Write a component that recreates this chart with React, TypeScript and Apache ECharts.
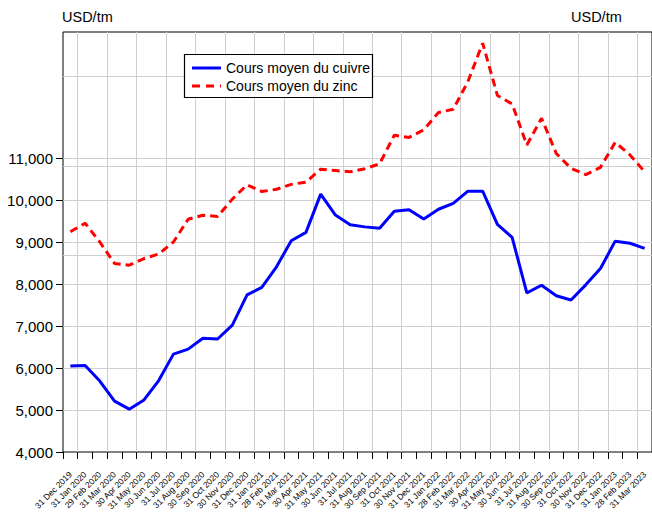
import React, { useEffect, useRef } from "react";
import * as echarts from "echarts";

const categories = [
  "31 Dec 2019", "31 Jan 2020", "29 Feb 2020", "31 Mar 2020", "30 Apr 2020", "31 May 2020",
  "30 Jun 2020", "31 Jul 2020", "31 Aug 2020", "30 Sep 2020", "31 Oct 2020", "30 Nov 2020",
  "31 Dec 2020", "31 Jan 2021", "28 Feb 2021", "31 Mar 2021", "30 Apr 2021", "31 May 2021",
  "30 Jun 2021", "31 Jul 2021", "31 Aug 2021", "30 Sep 2021", "31 Oct 2021", "30 Nov 2021",
  "31 Dec 2021", "31 Jan 2022", "28 Feb 2022", "31 Mar 2022", "30 Apr 2022", "31 May 2022",
  "30 Jun 2022", "31 Jul 2022", "31 Aug 2022", "30 Sep 2022", "31 Oct 2022", "30 Nov 2022",
  "31 Dec 2022", "31 Jan 2023", "28 Feb 2023", "31 Mar 2023",
];

const copper = [
  6050, 6060, 5690, 5210, 5020, 5240, 5700, 6330, 6450, 6710, 6690, 7020,
  7740, 7920, 8410, 9030, 9230, 10140, 9640, 9410, 9360, 9330, 9730, 9770,
  9550, 9780, 9920, 10210, 10210, 9420, 9110, 7790, 7970, 7720, 7620, 7980,
  8370, 9020, 8970, 8850,
];

const zinc = [
  2265, 2360, 2150, 1910, 1890, 1965, 2015, 2150, 2405, 2450, 2435, 2630,
  2790, 2715, 2740, 2795, 2820, 2965, 2950, 2935, 2970, 3025, 3345, 3320,
  3405, 3600, 3635, 3945, 4375, 3790, 3695, 3235, 3535, 3140, 2975, 2905,
  2985, 3265, 3125, 2935,
];

const seriesNames = ["Cours moyen du cuivre", "Cours moyen du zinc"];
const unitLabel = "USD/tm";

// axis ranges
const leftMin = 4000;
const leftMax = 14000;
const leftLabelMax = 11000;
const rightMin = -200;
const rightMax = 4500;
const rightGridMin = 2000;
const rightGridMax = 4000;

const FONT = "'Liberation Sans', Arial, sans-serif";
const GRID_COLOR = "#cfcfcf";
const COPPER_COLOR = "#0000ff";
const ZINC_COLOR = "#ff0000";

export default function App() {
  const ref = useRef<HTMLDivElement>(null);

  useEffect(() => {
    if (!ref.current) return;
    const chart = echarts.init(ref.current, null, { renderer: "svg" });

    const plotTop = 32;
    const plotHeight = 420;
    const plotLeft = 63;
    const plotWidth = 590;
    const plotBottomY = plotTop + plotHeight;
    const leftScale = plotHeight / (leftMax - leftMin);
    const rightScale = plotHeight / (rightMax - rightMin);
    const leftLabelTop = plotBottomY - (leftLabelMax - leftMin) * leftScale;
    const rgTop = plotBottomY - (rightGridMax - rightMin) * rightScale;
    const rgBottom = plotBottomY - (rightGridMin - rightMin) * rightScale;

    // legend box geometry
    const lgX = 184, lgY = 54, lgW = 188, lgH = 43;
    const row1 = 68, row2 = 86;

    const option: any = {
      animation: false,
      textStyle: { fontFamily: FONT },
      grid: [
        {
          left: plotLeft, top: plotTop, width: plotWidth, height: plotHeight,
          show: true, borderColor: "#000", borderWidth: 1, backgroundColor: "transparent",
        },
        { left: plotLeft, top: leftLabelTop, width: plotWidth, height: plotBottomY - leftLabelTop },
        { left: plotLeft, top: rgTop, width: plotWidth, height: rgBottom - rgTop },
      ],
      xAxis: [
        {
          type: "category",
          gridIndex: 0,
          data: categories,
          boundaryGap: true,
          axisLine: { show: false, onZero: false },
          axisTick: { show: true, interval: 0, length: 7, lineStyle: { color: "#000", width: 1 } },
          axisLabel: {
            interval: 0, rotate: 45, fontSize: 8.5, margin: 21, color: "#000", fontFamily: FONT,
          },
          splitLine: {
            show: true,
            interval: (i: number) => i % 2 === 1,
            lineStyle: { color: GRID_COLOR, width: 1 },
          },
        },
        { type: "value", gridIndex: 1, show: false, min: 0, max: 1, axisLine: { onZero: false } },
        { type: "value", gridIndex: 2, show: false, min: 0, max: 1, axisLine: { onZero: false } },
      ],
      yAxis: [
        {
          type: "value", gridIndex: 0, min: leftMin, max: leftMax, position: "left",
          axisLine: { show: false, onZero: false }, axisTick: { show: false }, axisLabel: { show: false },
          splitLine: { show: false },
        },
        {
          type: "value", gridIndex: 0, min: rightMin, max: rightMax, position: "right",
          axisLine: { show: false, onZero: false }, axisTick: { show: false }, axisLabel: { show: false },
          splitLine: { show: false },
        },
        {
          type: "value", gridIndex: 1, min: leftMin, max: leftLabelMax, interval: 1000, position: "left",
          axisLine: { show: false, onZero: false },
          axisTick: { show: true, length: 7, lineStyle: { color: "#000", width: 1 } },
          axisLabel: {
            show: true, fontSize: 15, margin: 10, color: "#000", fontFamily: FONT,
            formatter: (v: number) => v.toLocaleString("en-US"),
          },
          splitLine: { show: true, showMinLine: false, lineStyle: { color: GRID_COLOR, width: 1 } },
        },
        {
          type: "value", gridIndex: 2, min: rightGridMin, max: rightGridMax, interval: 1000, position: "right",
          axisLine: { show: false, onZero: false }, axisTick: { show: false }, axisLabel: { show: false },
          splitLine: { show: true, lineStyle: { color: GRID_COLOR, width: 1 } },
        },
      ],
      legend: { show: false },
      graphic: [
        {
          type: "text", left: 62, top: 9,
          style: { text: unitLabel, fontSize: 14.5, fill: "#000", fontFamily: FONT },
        },
        {
          type: "text", left: 571, top: 9,
          style: { text: unitLabel, fontSize: 14.5, fill: "#000", fontFamily: FONT },
        },
        {
          type: "rect",
          z: 100,
          shape: { x: lgX + 0.5, y: lgY + 0.5, width: lgW, height: lgH },
          style: { fill: "#fff", stroke: "#000", lineWidth: 1.2 },
        },
        {
          type: "line",
          z: 101,
          shape: { x1: 192, y1: row1, x2: 221, y2: row1 },
          style: { stroke: COPPER_COLOR, lineWidth: 3 },
        },
        {
          type: "line",
          z: 101,
          shape: { x1: 192, y1: row2, x2: 221, y2: row2 },
          style: { stroke: ZINC_COLOR, lineWidth: 3, lineDash: [8, 6] },
        },
        {
          type: "text",
          z: 101,
          x: 226, y: row1,
          style: {
            text: seriesNames[0], fontSize: 14, fill: "#000", fontFamily: FONT,
            verticalAlign: "middle", align: "left",
          },
        },
        {
          type: "text",
          z: 101,
          x: 226, y: row2,
          style: {
            text: seriesNames[1], fontSize: 14, fill: "#000", fontFamily: FONT,
            verticalAlign: "middle", align: "left",
          },
        },
      ],
      series: [
        {
          name: seriesNames[0],
          type: "line",
          xAxisIndex: 0,
          yAxisIndex: 0,
          data: copper,
          symbol: "none",
          showSymbol: false,
          lineStyle: { color: COPPER_COLOR, width: 3 },
          itemStyle: { color: COPPER_COLOR },
          z: 3,
        },
        {
          name: seriesNames[1],
          type: "line",
          xAxisIndex: 0,
          yAxisIndex: 1,
          data: zinc,
          symbol: "none",
          showSymbol: false,
          lineStyle: { color: ZINC_COLOR, width: 3, type: [8, 5] },
          itemStyle: { color: ZINC_COLOR },
          z: 3,
        },
      ],
    };

    chart.setOption(option);
    return () => chart.dispose();
  }, []);

  return (
    <div
      ref={ref}
      style={{ position: "fixed", left: 0, top: 0, width: 652, height: 515, background: "#fff" }}
    />
  );
}
